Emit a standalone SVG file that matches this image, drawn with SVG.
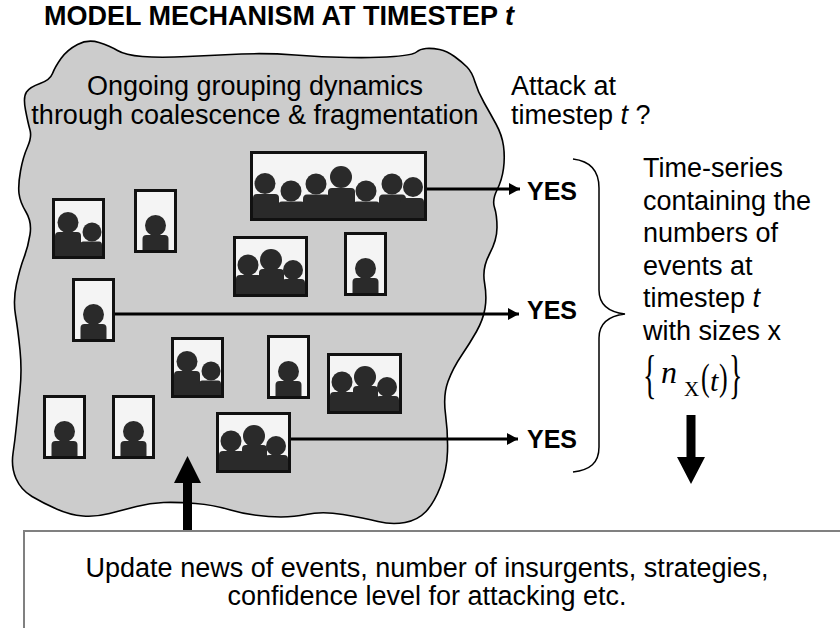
<svg xmlns="http://www.w3.org/2000/svg" xmlns:xlink="http://www.w3.org/1999/xlink" width="840" height="628" viewBox="0 0 840 628">
<style>
.t{font-family:"Liberation Sans",Arial,sans-serif;fill:#000}
.b{font-weight:bold}
.m{font-family:"Liberation Serif","Times New Roman",serif;fill:#000}
.bx{fill:#f4f4f4}
.bs{fill:none;stroke:#111;stroke-width:3}
.p{fill:#2a2a2a}
.ln{stroke:#000;stroke-width:3;fill:none}
</style>
<defs>
<marker id="ah" markerUnits="userSpaceOnUse" markerWidth="12" markerHeight="14" refX="11" refY="7" orient="auto"><path d="M0,1 L11,7 L0,13 Z" fill="#000"/></marker>
<g id="s1">
<rect class="bx" x="1.5" y="1.5" width="40" height="61"/>
<circle class="p" cx="21.5" cy="36.5" r="10.5"/>
<path class="p" d="M8.5,62 V50 Q8.5,46 12.5,46 H30.5 Q34.5,46 34.5,50 V62 Z"/>
<rect class="bs" x="1.5" y="1.5" width="40" height="61"/>
</g>
<g id="s2">
<rect class="bx" x="1.5" y="1.5" width="50" height="58"/>
<circle class="p" cx="16" cy="24.5" r="10.5"/>
<path class="p" d="M3,59 V38 Q3,34 7,34 H25 Q29,34 29,38 V59 Z"/>
<circle class="p" cx="40" cy="34" r="9.5"/>
<path class="p" d="M28,59 V47 Q28,43.5 31.5,43.5 H47 Q50,43.5 50,47 V59 Z"/>
<rect class="bs" x="1.5" y="1.5" width="50" height="58"/>
</g>
<g id="s3">
<rect class="bx" x="1.5" y="1.5" width="72" height="58"/>
<circle class="p" cx="15" cy="29" r="10.5"/>
<path class="p" d="M3,59 V43 Q3,39 7,39 H25 Q29,39 29,43 V59 Z"/>
<circle class="p" cx="60" cy="34" r="10"/>
<path class="p" d="M49,59 V47 Q49,43 53,43 H68 Q72,43 72,47 V59 Z"/>
<circle class="p" cx="38" cy="24" r="11"/>
<path class="p" d="M26,59 V37 Q26,33 30,33 H47 Q51,33 51,37 V59 Z"/>
<rect class="bs" x="1.5" y="1.5" width="72" height="58"/>
</g>
<g id="s7">
<rect class="bx" x="1.5" y="1.5" width="174" height="67"/>
<circle class="p" cx="15" cy="32.5" r="10.5"/>
<path class="p" d="M3,68 V47 Q3,43 7,43 H25 Q29,43 29,47 V68 Z"/>
<circle class="p" cx="41" cy="40" r="10.5"/>
<path class="p" d="M28,68 V55 Q28,50.5 32,50.5 H51 Q55,50.5 55,55 V68 Z"/>
<circle class="p" cx="66" cy="33" r="10.5"/>
<path class="p" d="M53,68 V48 Q53,43.5 57,43.5 H76 Q80,43.5 80,48 V68 Z"/>
<circle class="p" cx="91" cy="26" r="11"/>
<path class="p" d="M78,68 V41 Q78,37 82,37 H101 Q105,37 105,41 V68 Z"/>
<circle class="p" cx="116" cy="40" r="10.5"/>
<path class="p" d="M103,68 V55 Q103,50.5 107,50.5 H126 Q130,50.5 130,55 V68 Z"/>
<circle class="p" cx="142" cy="33" r="10.5"/>
<path class="p" d="M129,68 V48 Q129,43.5 133,43.5 H152 Q156,43.5 156,48 V68 Z"/>
<circle class="p" cx="163" cy="36" r="10"/>
<path class="p" d="M150,68 V51 Q150,47 154,47 H170 Q174,47 174,51 V68 Z"/>
<rect class="bs" x="1.5" y="1.5" width="174" height="67"/>
</g>
</defs>
<rect width="840" height="628" fill="#fff"/>

<text class="t b" x="44" y="25" font-size="27">MODEL MECHANISM AT TIMESTEP <tspan font-style="italic">t</tspan></text>

<g id="blob">
<path d="M99,42.5 Q110,46 117.5,50.5 Q125,55 142.5,56.5 Q160,58 187.5,56.5 Q215,55 241.5,54 Q268,53 295,55 Q322,57 348.5,57.5 Q375,58 394,56.5 Q413,55 416.5,52 Q420,49 426,48.5 Q432,48 439.5,49.5 Q447,51 454.5,56.5 Q462,62 467,67 Q472,72 475,82 Q478,92 484,102.5 Q490,113 496,124 Q502,135 503.5,146 Q505,157 503.5,168.5 Q502,180 497,190 Q492,200 494.5,207.5 Q497,215 497,227.5 Q497,240 489.5,254 Q482,268 484.5,282.5 Q487,297 485,308.5 Q483,320 476.5,331.5 Q470,343 461.5,355.5 Q453,368 448,381.5 Q443,395 445.5,414 Q448,433 447.5,451.5 Q447,470 440.5,486.5 Q434,503 426,511.5 Q418,520 405,522.5 Q392,525 378,521.5 Q364,518 343,514.5 Q322,511 306,514.5 Q290,518 268.5,516.5 Q247,515 230.5,510 Q214,505 195.5,503.5 Q177,502 163.5,502.5 Q150,503 136.5,506.5 Q123,510 109.5,513.5 Q96,517 83,516 Q70,515 56.5,509 Q43,503 32,496.5 Q21,490 16,478.5 Q11,467 13,453.5 Q15,440 16.5,425 Q18,410 20,390 Q22,370 20,350 Q18,330 15.5,315 Q13,300 16.5,284 Q20,268 24,257.5 Q28,247 30,234.5 Q32,222 26,212 Q20,202 19,193.5 Q18,185 20.5,171 Q23,157 27.5,147 Q32,137 30,130 Q28,123 25.5,110 Q23,97 26.5,92 Q30,87 40,83.5 Q50,80 52.5,73.5 Q55,67 61,58.5 Q67,50 77.5,44.5 Q88,39 99,42.5 Z" fill="#cccccc" stroke="#000" stroke-width="1.6"/>
<text class="t" x="255" y="95" font-size="27" text-anchor="middle">Ongoing grouping dynamics</text>
<text class="t" x="255" y="124" font-size="27" text-anchor="middle">through coalescence &amp; fragmentation</text>
</g>

<g id="connectors">
<line class="ln" x1="427" y1="189" x2="520" y2="189" marker-end="url(#ah)"/>
<line class="ln" x1="115" y1="314" x2="519" y2="314" marker-end="url(#ah)"/>
<line class="ln" x1="291" y1="439" x2="518" y2="439" marker-end="url(#ah)"/>
<path d="M183,531 V483 H174 L187.5,456 L201,483 H192 V531 Z" fill="#000"/>
<path d="M686.5,415 V457 H677 L691,484 L705,457 H695.5 V415 Z" fill="#000"/>
<path d="M573,159 C590,161 599,170 599,188 L599,290 C599,304 608,312 625,314 C608,316 599,324 599,338 L599,447 C599,463 590,470 573,472" fill="none" stroke="#000" stroke-width="1.5"/>
</g>

<g id="node-a"><use xlink:href="#s2" href="#s2" x="52" y="198"/></g>
<g id="node-b"><use xlink:href="#s1" href="#s1" x="134" y="189"/></g>
<g id="node-c"><use xlink:href="#s7" href="#s7" x="250" y="151"/></g>
<g id="node-d"><use xlink:href="#s3" href="#s3" x="233" y="236"/></g>
<g id="node-e"><use xlink:href="#s1" href="#s1" x="344" y="232"/></g>
<g id="node-f"><use xlink:href="#s1" href="#s1" x="72" y="278"/></g>
<g id="node-g"><use xlink:href="#s2" href="#s2" x="171" y="337"/></g>
<g id="node-h"><use xlink:href="#s1" href="#s1" x="267" y="335"/></g>
<g id="node-i"><use xlink:href="#s3" href="#s3" x="327" y="353"/></g>
<g id="node-j"><use xlink:href="#s1" href="#s1" x="43" y="395"/></g>
<g id="node-k"><use xlink:href="#s1" href="#s1" x="112" y="395"/></g>
<g id="node-l"><use xlink:href="#s3" href="#s3" x="216" y="412"/></g>

<g id="attack">
<text class="t" x="511" y="95" font-size="27">Attack at</text>
<text class="t" x="511" y="124" font-size="27">timestep <tspan font-style="italic">t</tspan> ?</text>
</g>

<g id="yes">
<text class="t b" x="527" y="200" font-size="25">YES</text>
<text class="t b" x="527" y="319" font-size="25">YES</text>
<text class="t b" x="527" y="448" font-size="25">YES</text>
</g>

<g id="timeseries">
<text class="t" x="643" y="177" font-size="27">Time-series</text>
<text class="t" x="643" y="210" font-size="27">containing the</text>
<text class="t" x="643" y="242" font-size="27">numbers of</text>
<text class="t" x="643" y="275" font-size="27">events at</text>
<text class="t" x="643" y="307" font-size="27">timestep <tspan font-style="italic">t</tspan></text>
<text class="t" x="643" y="340" font-size="27">with sizes x</text>
<text class="m" font-size="28" transform="translate(643,392) scale(1,1.85)">{</text>
<text class="m" x="661" y="383" font-size="32" font-style="italic">n</text>
<text class="m" x="684" y="396" font-size="21">X</text>
<text class="m" font-size="26" transform="translate(701,390) scale(1,1.45)">(</text>
<text class="m" x="710" y="391" font-size="30" font-style="italic">t</text>
<text class="m" font-size="26" transform="translate(719,390) scale(1,1.45)">)</text>
<text class="m" font-size="28" transform="translate(729,392) scale(1,1.85)">}</text>
</g>

<g id="update">
<rect x="24" y="531" width="830" height="110" fill="#fff" stroke="#808080" stroke-width="2"/>
<text class="t" x="427" y="577" font-size="27" text-anchor="middle">Update news of events, number of insurgents, strategies,</text>
<text class="t" x="427" y="605" font-size="27" text-anchor="middle">confidence level for attacking etc.</text>
</g>
</svg>
